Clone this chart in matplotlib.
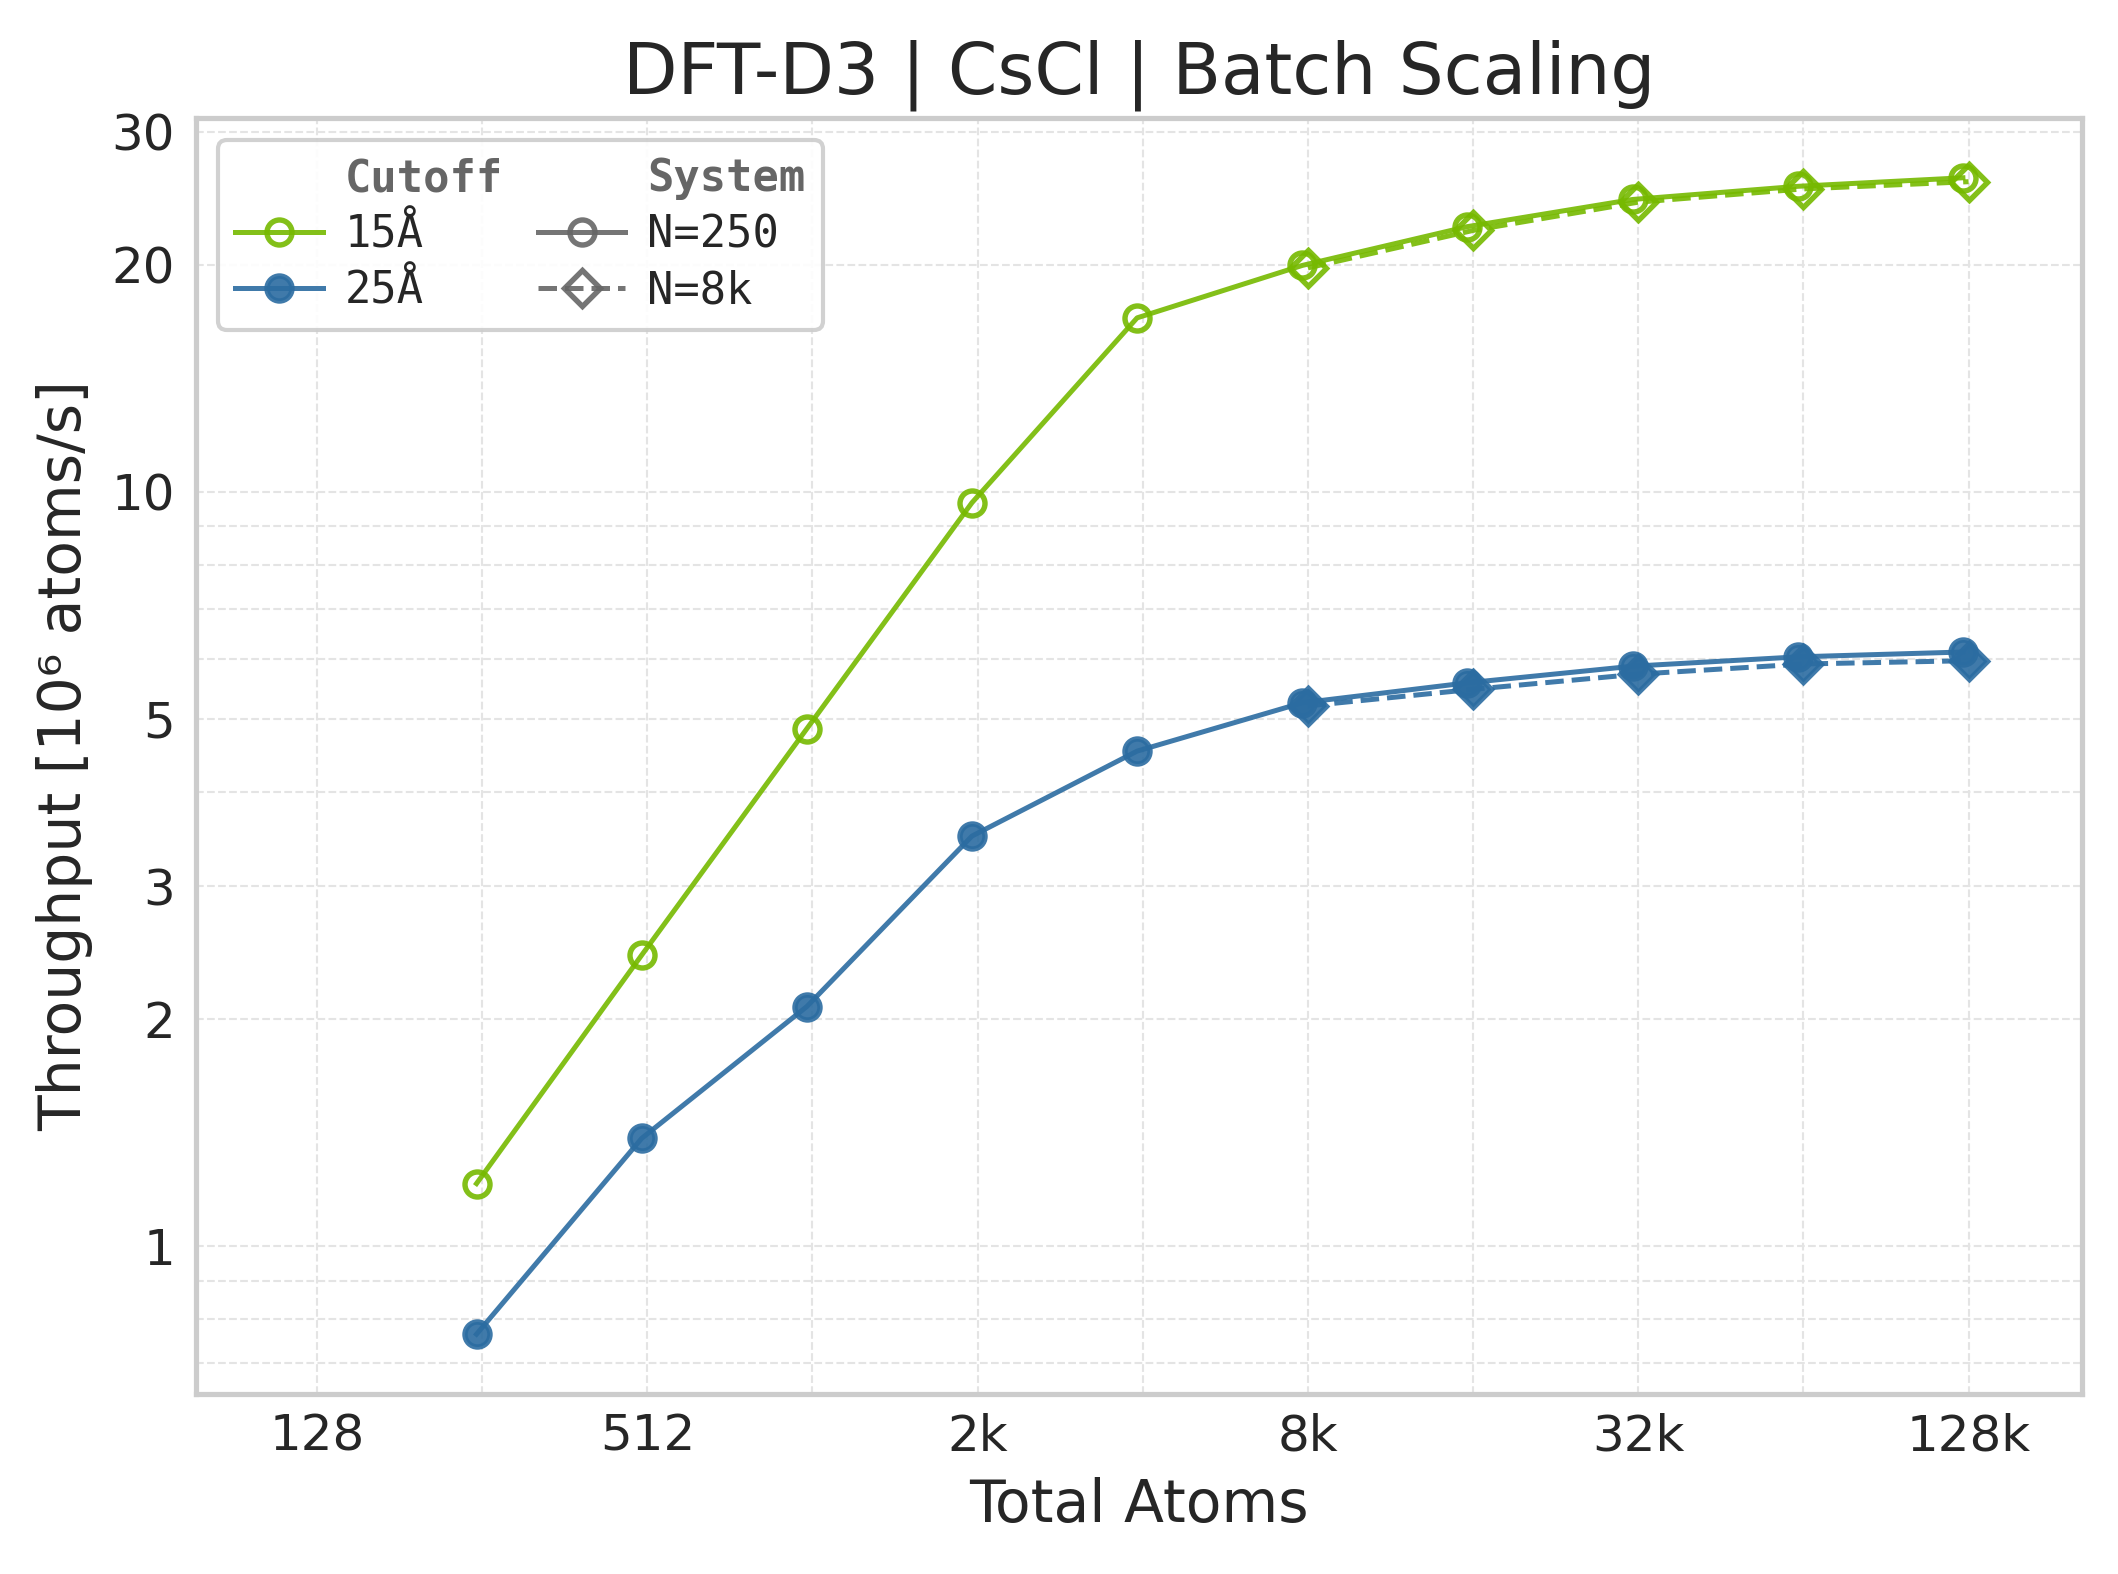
"""
Batch scaling plot for DFT-D3 on CsCl: throughput vs total atoms
for two cutoffs and two system sizes.
"""

import matplotlib
matplotlib.use("Agg")
import matplotlib.pyplot as plt
from matplotlib.lines import Line2D
from matplotlib.ticker import NullFormatter


# Total atoms in the batch (N=250 systems, and N=8k systems)
ATOMS_N250 = [250, 500, 1000, 2000, 4000, 8000, 16000, 32000, 64000, 128000]
ATOMS_N8K = [8192, 16384, 32768, 65536, 131072]

# Throughput in 10^6 atoms/s
TP_15A_N250 = [1.21, 2.43, 4.85, 9.67, 17.0, 19.95, 22.46, 24.4, 25.4, 26.07]
TP_25A_N250 = [0.764, 1.389, 2.077, 3.495, 4.53, 5.25, 5.58, 5.87, 6.04, 6.13]
TP_15A_N8K = [19.8, 22.2, 24.2, 25.2, 25.76]
TP_25A_N8K = [5.20, 5.47, 5.73, 5.91, 5.97]

CUTOFF_LABELS = ["15\u00c5", "25\u00c5"]
SYSTEM_LABELS = ["N=250", "N=8k"]

XTICKS = [128, 512, 2048, 8192, 32768, 131072]
XTICK_LABELS = ["128", "512", "2k", "8k", "32k", "128k"]
XMINOR = [256, 1024, 4096, 16384, 65536]
YTICKS = [1, 2, 3, 5, 10, 20, 30]
YTICK_LABELS = ["1", "2", "3", "5", "10", "20", "30"]

GREEN = "#76b900"
BLUE = "#2b6ca1"
GRAY = "#666666"
TEXT = "#262626"
LW = 1.2

plt.rcParams["font.family"] = ["DejaVu Sans"]
plt.rcParams["text.color"] = TEXT
plt.rcParams["axes.labelcolor"] = TEXT
plt.rcParams["xtick.color"] = TEXT
plt.rcParams["ytick.color"] = TEXT

fig, ax = plt.subplots(figsize=(2118 / 300, 1574 / 300), dpi=300)
fig.subplots_adjust(left=0.0925, right=0.983, top=0.925, bottom=0.1144)

ax.set_xscale("log", base=2)
ax.set_yscale("log")

series = [
    (GREEN, False, TP_15A_N250, TP_15A_N8K),
    (BLUE, True, TP_25A_N250, TP_25A_N8K),
]
for color, filled, tp_250, tp_8k in series:
    face = color if filled else "none"
    ax.plot(ATOMS_N250, tp_250, color=color, lw=LW, ls="-", marker="o",
            ms=6, mew=1.3, mfc=face, alpha=0.9, zorder=3)
    ax.plot(ATOMS_N8K, tp_8k, color=color, lw=LW, ls="--", marker="D",
            ms=6, mew=1.3, mfc=face, alpha=0.9, zorder=3)

# ticks
ax.set_xticks(XTICKS, XTICK_LABELS)
ax.set_xticks(XMINOR, minor=True)
ax.xaxis.set_minor_formatter(NullFormatter())
ax.set_yticks(YTICKS, YTICK_LABELS)
yminor = [m * 10.0 ** e for e in (-1, 0, 1) for m in range(2, 10)]
yminor = [v for v in yminor if v not in YTICKS]
ax.set_yticks(yminor, minor=True)
ax.yaxis.set_minor_formatter(NullFormatter())
ax.tick_params(axis="both", which="both", length=0, labelsize=12)
ax.tick_params(axis="x", pad=4.5)
ax.tick_params(axis="y", pad=5)

# axis limits (after the ticks, which would widen them)
all_tp = TP_15A_N250 + TP_25A_N250 + TP_15A_N8K + TP_25A_N8K
ax.set_ylim(min(all_tp) / 1.2, max(all_tp) * 1.2)
ax.set_xlim(77, 211000)

ax.grid(True, which="both", ls="--", lw=0.5, color="#e4e4e4")
ax.set_axisbelow(True)
for spine in ax.spines.values():
    spine.set_color("#cccccc")
    spine.set_linewidth(1.25)

ax.set_xlabel("Total Atoms", fontsize=14, labelpad=4)
ax.set_ylabel("Throughput [10\u2076 atoms/s]", fontsize=14, labelpad=4.5)
ax.set_title("DFT-D3 | CsCl | Batch Scaling", fontsize=17, pad=6)

# legend: two columns, each with a header row
blank = Line2D([], [], color="none")
handles = [
    blank,
    Line2D([], [], color=GREEN, lw=LW, marker="o", ms=6, mew=1.3,
           mfc="none", alpha=0.9),
    Line2D([], [], color=BLUE, lw=LW, marker="o", ms=6, mew=1.3,
           mfc=BLUE, alpha=0.9),
    blank,
    Line2D([], [], color=GRAY, lw=LW, ls="-", marker="o", ms=6, mew=1.3,
           mfc="none", alpha=0.9),
    Line2D([], [], color=GRAY, lw=LW, ls="--", marker="D", ms=6, mew=1.3,
           mfc="none", alpha=0.9),
]
labels = ["Cutoff"] + CUTOFF_LABELS + ["System"] + SYSTEM_LABELS
leg = ax.legend(handles, labels, ncol=2, loc="upper left",
                prop={"family": "DejaVu Sans Mono", "size": 10.5},
                labelspacing=0.3, columnspacing=0.8, handletextpad=0.5,
                fancybox=True, framealpha=0.9, edgecolor="#cccccc")
leg.get_frame().set_linewidth(1.0)
for text in leg.get_texts():
    if text.get_text() in ("Cutoff", "System"):
        text.set_fontweight("bold")
        text.set_color(GRAY)

fig.savefig("out.png", dpi=300)
